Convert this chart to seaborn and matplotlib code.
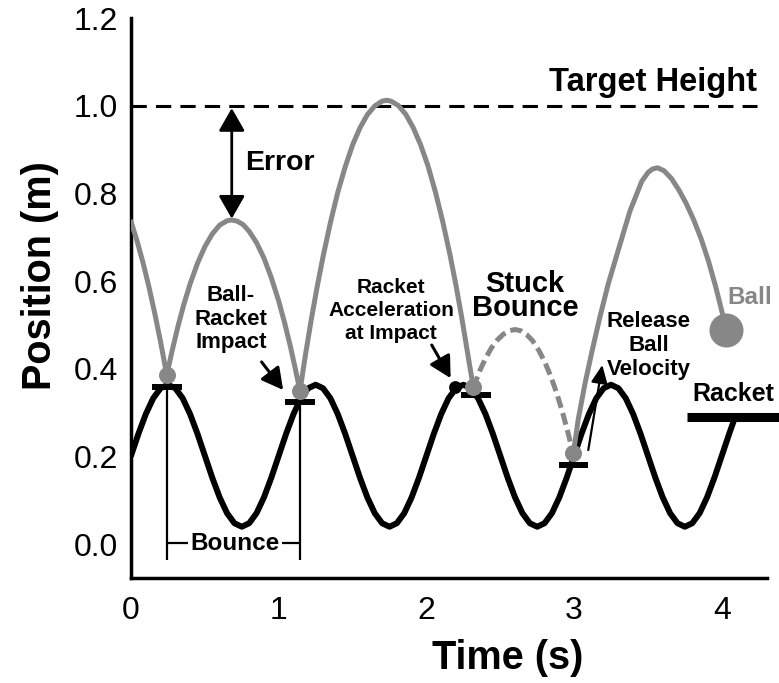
import matplotlib
matplotlib.use("Agg")
import matplotlib.pyplot as plt
import seaborn as sns

# ---------------- data ----------------
racket_t = [0.00, 0.05, 0.10, 0.15, 0.20, 0.25, 0.30, 0.35, 0.40, 0.45,
            0.50, 0.55, 0.60, 0.65, 0.70, 0.75, 0.80, 0.85, 0.90, 0.95,
            1.00, 1.05, 1.10, 1.15, 1.20, 1.25, 1.30, 1.35, 1.40, 1.45,
            1.50, 1.55, 1.60, 1.65, 1.70, 1.75, 1.80, 1.85, 1.90, 1.95,
            2.00, 2.05, 2.10, 2.15, 2.20, 2.25, 2.30, 2.35, 2.40, 2.45,
            2.50, 2.55, 2.60, 2.65, 2.70, 2.75, 2.80, 2.85, 2.90, 2.95,
            3.00, 3.05, 3.10, 3.15, 3.20, 3.25, 3.30, 3.35, 3.40, 3.45,
            3.50, 3.55, 3.60, 3.65, 3.70, 3.75, 3.80, 3.85, 3.90, 3.95,
            4.00, 4.05, 4.09]
racket_y = [0.202, 0.252, 0.297, 0.333, 0.356, 0.364, 0.356, 0.333, 0.297, 0.252,
            0.202, 0.152, 0.107, 0.071, 0.048, 0.040, 0.048, 0.071, 0.107, 0.152,
            0.202, 0.252, 0.297, 0.333, 0.356, 0.364, 0.356, 0.333, 0.297, 0.252,
            0.202, 0.152, 0.107, 0.071, 0.048, 0.040, 0.048, 0.071, 0.107, 0.152,
            0.202, 0.252, 0.297, 0.333, 0.356, 0.364, 0.356, 0.333, 0.297, 0.252,
            0.202, 0.152, 0.107, 0.071, 0.048, 0.040, 0.048, 0.071, 0.107, 0.152,
            0.202, 0.252, 0.297, 0.333, 0.356, 0.364, 0.356, 0.333, 0.297, 0.252,
            0.202, 0.152, 0.107, 0.071, 0.048, 0.040, 0.048, 0.071, 0.107, 0.152,
            0.202, 0.252, 0.290]

ball1_t = [0.00, 0.04, 0.08, 0.12, 0.16, 0.20, 0.242, 0.28, 0.32, 0.36, 0.40,
           0.45, 0.50, 0.55, 0.60, 0.65, 0.682, 0.72, 0.76, 0.80, 0.85, 0.90,
           0.95, 1.00, 1.04, 1.08, 1.11, 1.144, 1.18, 1.22, 1.26, 1.30, 1.35,
           1.40, 1.45, 1.50, 1.55, 1.60, 1.65, 1.70, 1.731, 1.76, 1.81, 1.86,
           1.91, 1.96, 2.01, 2.06, 2.11, 2.16, 2.20, 2.24, 2.28, 2.318]
ball1_y = [0.736, 0.693, 0.644, 0.589, 0.528, 0.462, 0.386, 0.444, 0.500, 0.550, 0.594,
           0.641, 0.679, 0.708, 0.728, 0.738, 0.740, 0.737, 0.729, 0.714, 0.688, 0.653,
           0.608, 0.555, 0.505, 0.450, 0.404, 0.350, 0.430, 0.512, 0.587, 0.656, 0.734,
           0.803, 0.861, 0.911, 0.950, 0.980, 1.000, 1.011, 1.013, 1.011, 1.001, 0.981,
           0.951, 0.912, 0.864, 0.805, 0.737, 0.660, 0.591, 0.516, 0.434, 0.357]

stuck_t = [2.318, 2.36, 2.40, 2.44, 2.48, 2.52, 2.56, 2.60, 2.64, 2.68,
           2.72, 2.76, 2.80, 2.84, 2.88, 2.92, 2.96, 2.995]
stuck_y = [0.357, 0.395, 0.424, 0.448, 0.466, 0.479, 0.487, 0.490, 0.487, 0.478,
           0.464, 0.443, 0.417, 0.385, 0.347, 0.303, 0.253, 0.2045]

ball3_t = [2.995, 3.028, 3.074, 3.123, 3.175, 3.232, 3.299, 3.378, 3.458, 3.50,
           3.53, 3.565, 3.61, 3.66, 3.71, 3.76, 3.81, 3.86, 3.91, 3.96, 4.00, 4.033]
ball3_y = [0.2075, 0.285, 0.367, 0.443, 0.519, 0.595, 0.671, 0.760, 0.828, 0.848,
           0.856, 0.859, 0.852, 0.834, 0.808, 0.777, 0.740, 0.697, 0.646, 0.586, 0.532, 0.489]

impact_t = [0.242, 1.144, 2.318, 2.995]
impact_y = [0.386, 0.350, 0.359, 0.2075]

bar_t = [0.242, 1.144, 2.335, 2.995]
bar_y = [0.359, 0.325, 0.340, 0.181]

accel_t = [2.193]
accel_y = [0.359]

ball_end_t = [4.026]
ball_end_y = [0.489]

racket_end_y = 0.290
target_height = 1.0

x_ticks = [0, 1, 2, 3, 4]
x_ticklabels = ["0", "1", "2", "3", "4"]
y_ticks = [0.0, 0.2, 0.4, 0.6, 0.8, 1.0, 1.2]
y_ticklabels = ["0.0", "0.2", "0.4", "0.6", "0.8", "1.0", "1.2"]

# ---------------- style ----------------
sns.set_style("white")
plt.rcParams['font.family'] = ['Liberation Sans', 'DejaVu Sans']
plt.rcParams['text.color'] = 'black'
plt.rcParams['axes.labelcolor'] = 'black'
plt.rcParams['xtick.color'] = 'black'
plt.rcParams['ytick.color'] = 'black'

BALL = '#878787'

fig = plt.figure(figsize=(7.79, 6.83), dpi=100)
ax = fig.add_axes([0.1682, 0.1537, 0.816, 0.8195])

# target height line
ax.hlines(target_height, 0, 4.238, colors='black', lw=2.2,
          linestyles=(0, (5, 3)), zorder=2)

# racket trajectory
sns.lineplot(x=racket_t, y=racket_y, ax=ax, color='black', lw=4.3,
             estimator=None, sort=False, solid_capstyle='round', zorder=3)

# racket bars at impacts
for bt, by in zip(bar_t, bar_y):
    ax.hlines(by, bt - 0.1, bt + 0.1, colors='black', lw=4.3, zorder=3.5)
# racket icon at end
ax.hlines(racket_end_y, 3.762, 4.40, colors='black', lw=6.5, zorder=3.5,
          clip_on=False)

# ball trajectory
sns.lineplot(x=ball1_t, y=ball1_y, ax=ax, color=BALL, lw=3.6, estimator=None,
             sort=False, solid_capstyle='round', solid_joinstyle='round', zorder=4)
sns.lineplot(x=stuck_t, y=stuck_y, ax=ax, color=BALL, lw=3.6, estimator=None,
             sort=False, linestyle=(0, (2.4, 1.1)), zorder=4)
sns.lineplot(x=ball3_t, y=ball3_y, ax=ax, color=BALL, lw=3.6, estimator=None,
             sort=False, solid_capstyle='round', solid_joinstyle='round', zorder=4)

# impact dots
sns.scatterplot(x=impact_t, y=impact_y, ax=ax, color=BALL, s=150,
                linewidth=0, zorder=6)
sns.scatterplot(x=accel_t, y=accel_y, ax=ax, color='black', s=85,
                linewidth=0, zorder=6)
sns.scatterplot(x=ball_end_t, y=ball_end_y, ax=ax, color=BALL, s=600,
                linewidth=0, zorder=6)

# bounce bracket
ax.vlines(impact_t[0], -0.036, bar_y[0], colors='black', lw=1.6, zorder=2)
ax.vlines(impact_t[1], -0.036, bar_y[1], colors='black', lw=1.6, zorder=2)
ax.hlines(0.002, impact_t[0], impact_t[1], colors='black', lw=1.6, zorder=2)
ax.text(0.703, 0.002, "Bounce", ha='center', va='center', fontsize=17.5,
        fontweight='bold', zorder=3,
        bbox=dict(facecolor='white', edgecolor='none', pad=1.5))

# arrows
ax.annotate('', xy=(0.682, 0.743), xytext=(0.682, 0.995),
            arrowprops=dict(arrowstyle='<|-|>,head_length=0.7,head_width=0.4',
                            mutation_scale=20, lw=2, color='black',
                            shrinkA=0, shrinkB=0), zorder=5)
ax.annotate('', xy=(1.03, 0.352), xytext=(0.884, 0.416),
            arrowprops=dict(arrowstyle='-|>,head_length=0.65,head_width=0.35',
                            mutation_scale=20, lw=2.2, color='black',
                            shrinkA=0, shrinkB=0), zorder=5)
ax.annotate('', xy=(2.164, 0.379), xytext=(2.036, 0.4545),
            arrowprops=dict(arrowstyle='-|>,head_length=0.65,head_width=0.35',
                            mutation_scale=20, lw=2.2, color='black',
                            shrinkA=0, shrinkB=0), zorder=5)
ax.annotate('', xy=(3.191, 0.409), xytext=(3.096, 0.215),
            arrowprops=dict(arrowstyle='-|>,head_length=0.55,head_width=0.25',
                            mutation_scale=20, lw=1.6, color='black',
                            shrinkA=0, shrinkB=0), zorder=5)

# text labels
ax.text(4.238, 1.054, "Target Height", ha='right', va='center',
        fontsize=23.5, fontweight='bold', color='black')
ax.text(0.772, 0.870, "Error", ha='left', va='center', fontsize=20.5,
        fontweight='bold', color='black')
ax.text(0.677, 0.513, "Ball-\nRacket\nImpact", ha='center', va='center',
        fontsize=16, fontweight='bold', linespacing=1.16, color='black')
ax.text(1.760, 0.534, "Racket\nAcceleration\nat Impact", ha='center',
        va='center', fontsize=15, fontweight='bold', linespacing=1.26,
        color='black')
ax.text(2.668, 0.566, "Stuck\nBounce", ha='center', va='center',
        fontsize=21, fontweight='bold', linespacing=0.8, color='black')
ax.text(3.507, 0.454, "Release\nBall\nVelocity", ha='center', va='center',
        fontsize=16, fontweight='bold', linespacing=1.2, color='black')
ax.text(4.078, 0.343, "Racket", ha='center', va='center', fontsize=18,
        fontweight='bold', color='black')
ax.text(4.19, 0.564, "Ball", ha='center', va='center', fontsize=17.5,
        fontweight='bold', color=BALL)

# axes
ax.set_xlim(0, 4.304)
ax.set_ylim(-0.077, 1.2)
ax.set_xticks(x_ticks)
ax.set_xticklabels(x_ticklabels)
ax.set_yticks(y_ticks)
ax.set_yticklabels(y_ticklabels)
ax.spines['top'].set_visible(False)
ax.spines['right'].set_visible(False)
for s in ('left', 'bottom'):
    ax.spines[s].set_linewidth(2.5)
    ax.spines[s].set_color('black')
ax.tick_params(axis='x', direction='in', length=6, width=2, labelsize=23,
               pad=13, colors='black')
ax.tick_params(axis='y', direction='in', length=4.5, width=2, labelsize=23,
               pad=9.5, colors='black')

ax.set_xlabel("Time (s)", fontsize=28.5, fontweight='bold', color='black')
ax.xaxis.set_label_coords(0.592, -0.109)
ax.set_ylabel("Position (m)", fontsize=28.5, fontweight='bold', color='black')
ax.yaxis.set_label_coords(-0.113, 0.54)

fig.savefig("out.png", dpi=100, facecolor='white')
